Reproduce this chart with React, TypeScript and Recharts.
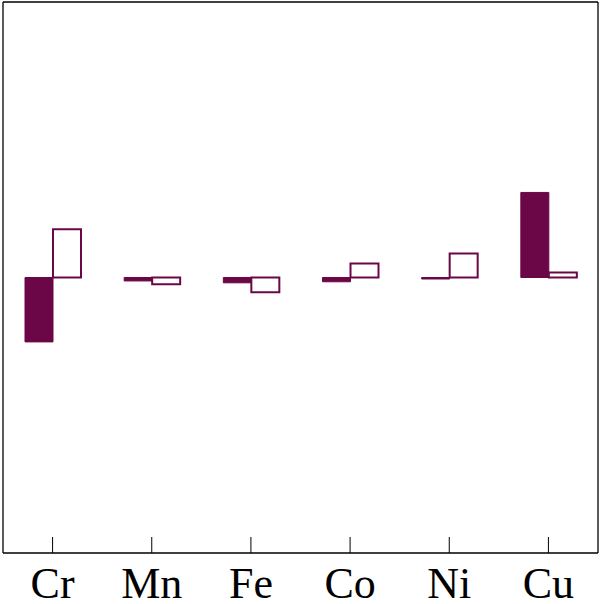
import { BarChart, Bar, XAxis, YAxis } from "recharts";

const elements = ["Cr", "Mn", "Fe", "Co", "Ni", "Cu"];
const filledValues = [-0.935, -0.05, -0.077, -0.062, -0.022, 1.235];
const openValues = [0.7, -0.097, -0.213, 0.203, 0.348, 0.072];

const PURPLE = "#6b0747";

const data = elements.map((name, i) => ({
  name,
  filled: filledValues[i],
  open: openValues[i],
}));

const ElementTick = ({ x, y, payload }: any) => (
  <g>
    <line x1={x} y1={y} x2={x} y2={y - 16} stroke="#000" strokeWidth={1} />
    <text
      x={x}
      y={y + 45}
      textAnchor="middle"
      fontFamily="'Liberation Serif', 'DejaVu Serif', serif"
      fontSize={44}
      fill="#000"
    >
      {payload.value}
    </text>
  </g>
);

const frame = { stroke: "#000", strokeWidth: 1.3 };

export default function App() {
  return (
    <div style={{ position: "absolute", left: 0, top: 0 }}>
      <BarChart
        width={600}
        height={604}
        data={data}
        margin={{ top: 1, right: 1, left: 2, bottom: 0 }}
        barGap={0}
        barSize={28}
      >
        <XAxis
          dataKey="name"
          height={51}
          tickSize={0}
          tickMargin={0}
          tickLine={false}
          tick={<ElementTick />}
          axisLine={frame}
        />
        <XAxis
          xAxisId="top"
          dataKey="name"
          orientation="top"
          height={1}
          tick={false}
          tickLine={false}
          axisLine={frame}
        />
        <YAxis
          domain={[-4, 4]}
          width={1}
          tick={false}
          tickLine={false}
          axisLine={frame}
        />
        <YAxis
          yAxisId="right"
          orientation="right"
          domain={[-4, 4]}
          width={1}
          tick={false}
          tickLine={false}
          axisLine={frame}
        />
        <Bar
          dataKey="filled"
          fill={PURPLE}
          stroke={PURPLE}
          strokeWidth={1}
          isAnimationActive={false}
        />
        <Bar
          dataKey="open"
          fill="#ffffff"
          stroke={PURPLE}
          strokeWidth={2}
          isAnimationActive={false}
        />
      </BarChart>
    </div>
  );
}
